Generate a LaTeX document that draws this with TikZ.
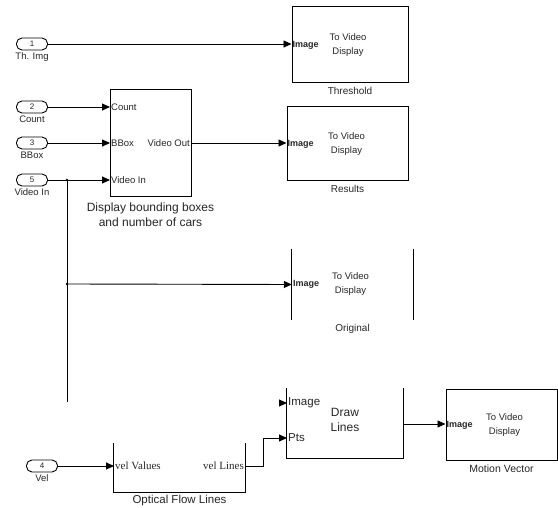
\documentclass[tikz,border=0pt]{standalone}
\usepackage{fontspec}
\setmainfont{Liberation Sans}
\newfontfamily\sernum{Liberation Serif}
\usetikzlibrary{arrows.meta,positioning}

\begin{document}
\begin{tikzpicture}[x=1pt, y=-1pt,
    every node/.style={font=\fontsize{9.5}{11}\selectfont, text=black!85},
    blk/.style={rectangle, draw, line width=1pt, inner sep=0pt},
    openblk/.style={rectangle, inner sep=0pt},
    inp/.style={rectangle, draw, line width=0.9pt, rounded corners=5.5pt,
                minimum width=31pt, minimum height=12pt, inner sep=0pt,
                font=\fontsize{8}{8}\selectfont},
    sig/.style={line width=0.9pt, -{Triangle[length=8pt,width=7pt]}},
    wire/.style={line width=0.9pt},
    prt/.style={inner sep=1pt, anchor=west},
    oprt/.style={inner sep=1pt, anchor=east},
    imgp/.style={inner sep=1pt, anchor=west, font=\fontsize{9}{10}\bfseries\selectfont},
    vtxt/.style={align=center, font=\fontsize{9.5}{14}\selectfont},
    lbl/.style={inner sep=1pt},
    dot/.style={circle, fill, inner sep=0pt, minimum size=2.6pt},
  ]
  \useasboundingbox (0,0) rectangle (558,508);

  % inports
  \node[inp] (in1) at (32,44) {1};
  \node[inp] (in2) at (32,107) {2};
  \node[inp] (in3) at (32,143) {3};
  \node[inp] (in5) at (32,180) {5};
  \node[inp] (in4) at (42,466) {4};
  \node[lbl, below=1pt of in1] (lb1) {Th. Img};
  \node[lbl, below=1pt of in2] (lb2) {Count};
  \node[lbl, below=1pt of in3] (lb3) {BBox};
  \node[lbl, below=1pt of in5] (lb5) {Video In};
  \node[lbl, below=1pt of in4] (lb4) {Vel};

  % video display blocks
  \node[blk, minimum width=116pt, minimum height=76pt] (thr) at (350,45) {};
  \node[imgp] (thrImg) at (thr.west) {Image};
  \node[vtxt] (thrTxt) at ([xshift=-2pt]thr.center) {To Video\\Display};
  \node[lbl, below=3pt of thr, font=\fontsize{10}{12}\selectfont] (thrCap) {Threshold};

  \node[blk, minimum width=121pt, minimum height=74pt] (res) at (347.5,144) {};
  \node[imgp] (resImg) at (res.west) {Image};
  \node[vtxt] (resTxt) at ([xshift=-1pt]res.center) {To Video\\Display};
  \node[lbl, below=3pt of res, font=\fontsize{10}{12}\selectfont] (resCap) {Results};

  \node[openblk, minimum width=121pt, minimum height=71pt] (org) at (352.5,284.5) {};
  \draw[line width=1pt] (org.north west) -- (org.south west);
  \draw[line width=1pt] (org.north east) -- (org.south east);
  \node[imgp] (orgImg) at (org.west) {Image};
  \node[vtxt] (orgTxt) at ([xshift=-2pt]org.center) {To Video\\Display};
  \node[lbl, below=3pt of org, font=\fontsize{10}{12}\selectfont] (orgCap) {Original};

  \node[blk, minimum width=111pt, minimum height=70pt] (mv) at (501.5,425) {};
  \node[imgp] (mvImg) at (mv.west) {Image};
  \node[vtxt] (mvTxt) at ([xshift=3pt]mv.center) {To Video\\Display};
  \node[lbl, below=3pt of mv, font=\fontsize{10.5}{12}\selectfont] (mvCap) {Motion Vector};

  % bounding box block
  \node[blk, minimum width=81pt, minimum height=107pt] (dbb) at (150.5,143.5) {};
  \coordinate (dbbCount) at (110,107);
  \coordinate (dbbBBox) at (110,143);
  \coordinate (dbbVid) at (110,180);
  \coordinate (dbbOut) at (191,143);
  \node[prt] (pCount) at (dbbCount) {Count};
  \node[prt] (pBBox) at (dbbBBox) {BBox};
  \node[prt] (pVid) at (dbbVid) {Video In};
  \node[oprt] (pOut) at (dbbOut) {Video Out};
  \node[lbl, align=center, below=4pt of dbb, font=\fontsize{12}{15}\selectfont] (dbbCap)
    {Display bounding boxes\\and number of cars};

  % optical flow lines
  \node[openblk, minimum width=131pt, minimum height=49pt] (ofl) at (179.5,467.5) {};
  \draw[line width=1pt] (ofl.north west) -- (ofl.south west) -- (ofl.south east) -- (ofl.north east);
  \coordinate (oflIn) at (114,466);
  \coordinate (oflOut) at (245,466);
  \node[prt, font=\sernum\fontsize{11}{12}\selectfont] (pVel) at (oflIn) {vel Values};
  \node[oprt, font=\sernum\fontsize{11}{12}\selectfont] (pLines) at (oflOut) {vel Lines};
  \node[lbl, below=2pt of ofl, font=\fontsize{11.5}{13}\selectfont] (oflCap) {Optical Flow Lines};

  % draw lines
  \node[openblk, minimum width=116pt, minimum height=70pt] (dl) at (345,423) {};
  \draw[line width=1pt] (dl.north west) -- (dl.south west) -- (dl.south east) -- (dl.north east);
  \coordinate (dlImg) at (287,403);
  \coordinate (dlPts) at (287,438);
  \coordinate (dlOut) at (403,424);
  \node[prt, font=\fontsize{11.5}{13}\selectfont] (pImg) at (dlImg) {Image};
  \node[prt, font=\fontsize{11.5}{13}\selectfont] (pPts) at (dlPts) {Pts};
  \node[align=center, font=\fontsize{12}{15}\selectfont] (dlTxt) at (345,420) {Draw\\Lines};

  % signals
  \coordinate (br1) at (67,180);
  \coordinate (br2) at (67,284);
  \coordinate (brEnd) at (67,402);
  \coordinate (dlImgFree) at (280,403);
  \draw[sig] (in1.east) -- (in1.east -| thr.west);
  \draw[sig] (in2.east) -- (dbbCount);
  \draw[sig] (in3.east) -- (dbbBBox);
  \draw[sig] (in5.east) -- (dbbVid);
  \draw[wire] (br1) -- (brEnd);
  \node[dot] at (br1) {};
  \node[dot] at (br2) {};
  \draw[sig] (br2) -- (org.west);
  \draw[sig] (dbbOut) -- (dbbOut -| res.west);
  \draw[sig] (in4.east) -- (oflIn);
  \draw[sig] (oflOut) -- ++(18,0) |- (dlPts);
  \draw[sig] (dlImgFree) -- (dlImg);
  \draw[sig] (dlOut) -- (dlOut -| mv.west);
\end{tikzpicture}
\end{document}
